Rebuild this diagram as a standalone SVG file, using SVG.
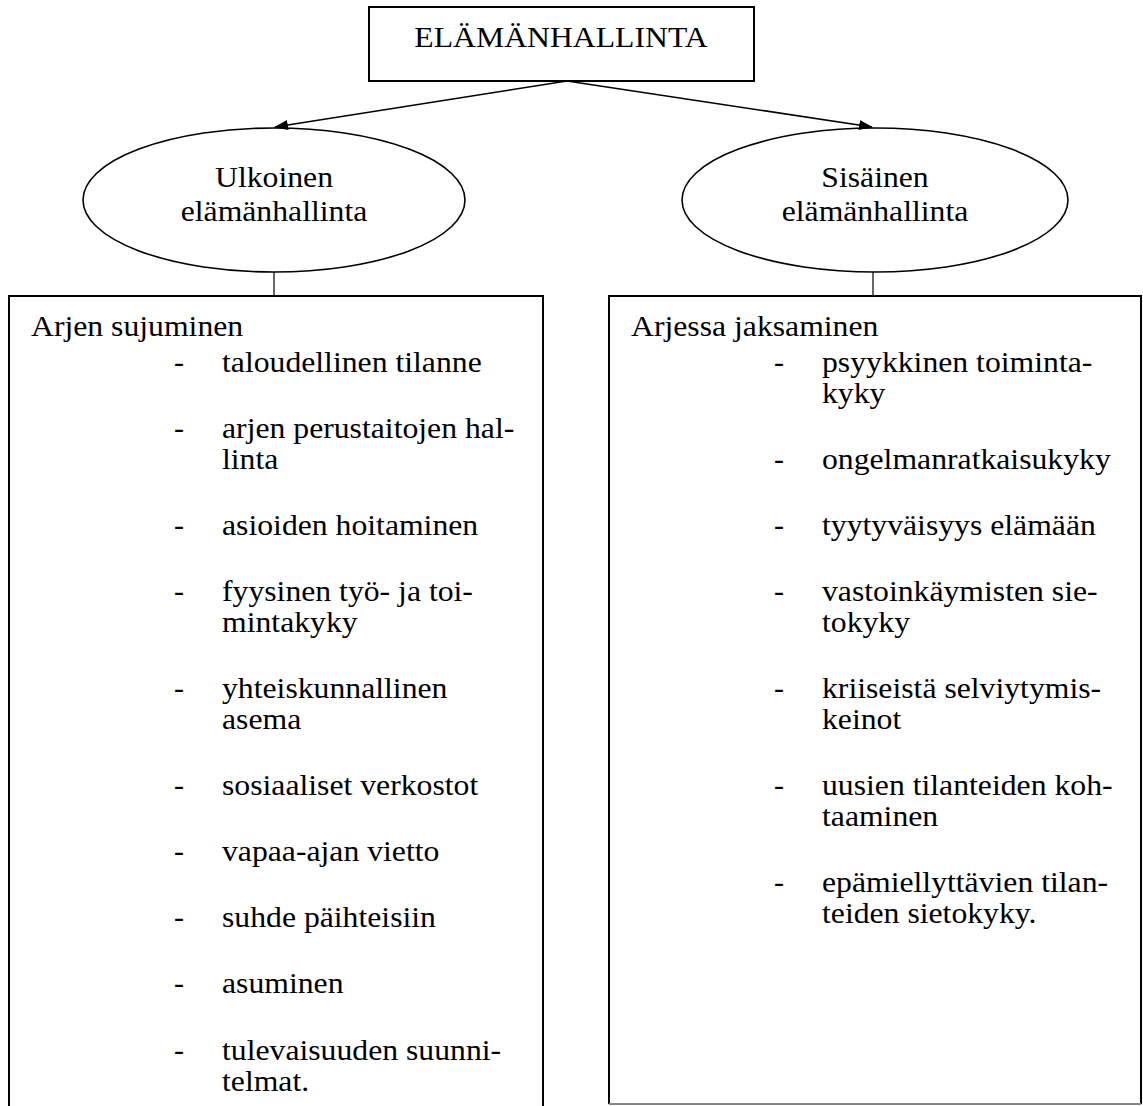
<svg xmlns="http://www.w3.org/2000/svg" width="1143" height="1106" viewBox="0 0 1143 1106">
<style>
text { font-family: "Liberation Serif", "Times New Roman", serif; font-size: 30px; fill: #000; }
.c { text-anchor: middle; }
.box { fill: none; stroke: #000; stroke-width: 2; }
.ell { fill: none; stroke: #000; stroke-width: 1.6; }
.conn { stroke: #000; stroke-width: 1.6; fill: none; }
.stem { stroke: #000; stroke-width: 1.2; fill: none; }
</style>
<defs>
<marker id="ah" markerWidth="14" markerHeight="10" refX="13" refY="5" orient="auto" markerUnits="userSpaceOnUse"><path d="M0,0 L14,5 L0,10 z" fill="#000"/></marker>
</defs>
<rect x="0" y="0" width="1143" height="1106" fill="#fff"/>

<g id="connectors">
<line class="conn" x1="567" y1="81" x2="275" y2="127" marker-end="url(#ah)"/>
<line class="conn" x1="567" y1="81" x2="872" y2="127" marker-end="url(#ah)"/>
<line class="stem" x1="274" y1="272" x2="274" y2="296"/>
<line class="stem" x1="873" y1="272" x2="873" y2="296"/>
</g>

<g id="node-title">
<rect class="box" x="369" y="7" width="385" height="74"/>
<g transform="translate(561,0) scale(1.057,1)"><text class="c" x="0" y="47">ELÄMÄNHALLINTA</text></g>
</g>

<g id="node-ulkoinen">
<ellipse class="ell" cx="274" cy="200" rx="191" ry="72"/>
<g transform="translate(274,0) scale(1.057,1)">
<text class="c" x="0" y="187">Ulkoinen</text>
<text class="c" x="0" y="221">elämänhallinta</text>
</g>
</g>

<g id="node-sisainen">
<ellipse class="ell" cx="875" cy="200" rx="193" ry="72"/>
<g transform="translate(875,0) scale(1.057,1)">
<text class="c" x="0" y="187">Sisäinen</text>
<text class="c" x="0" y="221">elämänhallinta</text>
</g>
</g>

<g id="node-arjen-sujuminen">
<path class="box" d="M9,1110 V296 H543 V1110"/>
<g transform="translate(31,0) scale(1.057,1)"><text x="0" y="336">Arjen sujuminen</text></g>
<g>
<text x="174" y="372">-</text>
<text x="174" y="438">-</text>
<text x="174" y="535">-</text>
<text x="174" y="601">-</text>
<text x="174" y="698">-</text>
<text x="174" y="795">-</text>
<text x="174" y="861">-</text>
<text x="174" y="927">-</text>
<text x="174" y="993">-</text>
<text x="174" y="1060">-</text>
</g>
<g transform="translate(222,0) scale(1.057,1)">
<text x="0" y="372">taloudellinen tilanne</text>
<text x="0" y="438">arjen perustaitojen hal-</text>
<text x="0" y="469">linta</text>
<text x="0" y="535">asioiden hoitaminen</text>
<text x="0" y="601">fyysinen työ- ja toi-</text>
<text x="0" y="632">mintakyky</text>
<text x="0" y="698">yhteiskunnallinen</text>
<text x="0" y="729">asema</text>
<text x="0" y="795">sosiaaliset verkostot</text>
<text x="0" y="861">vapaa-ajan vietto</text>
<text x="0" y="927">suhde päihteisiin</text>
<text x="0" y="993">asuminen</text>
<text x="0" y="1060">tulevaisuuden suunni-</text>
<text x="0" y="1091">telmat.</text>
</g>
</g>

<g id="node-arjessa-jaksaminen">
<path class="box" d="M609,1104 V296 H1141 V1104"/>
<line x1="609" y1="1104" x2="1141" y2="1104" stroke="#888" stroke-width="2"/>
<g transform="translate(631,0) scale(1.057,1)"><text x="0" y="336">Arjessa jaksaminen</text></g>
<g>
<text x="774" y="372">-</text>
<text x="774" y="469">-</text>
<text x="774" y="535">-</text>
<text x="774" y="601">-</text>
<text x="774" y="698">-</text>
<text x="774" y="795">-</text>
<text x="774" y="892">-</text>
</g>
<g transform="translate(822,0) scale(1.057,1)">
<text x="0" y="372">psyykkinen toiminta-</text>
<text x="0" y="403">kyky</text>
<text x="0" y="469">ongelmanratkaisukyky</text>
<text x="0" y="535">tyytyväisyys elämään</text>
<text x="0" y="601">vastoinkäymisten sie-</text>
<text x="0" y="632">tokyky</text>
<text x="0" y="698">kriiseistä selviytymis-</text>
<text x="0" y="729">keinot</text>
<text x="0" y="795">uusien tilanteiden koh-</text>
<text x="0" y="826">taaminen</text>
<text x="0" y="892">epämiellyttävien tilan-</text>
<text x="0" y="923">teiden sietokyky.</text>
</g>
</g>
</svg>
